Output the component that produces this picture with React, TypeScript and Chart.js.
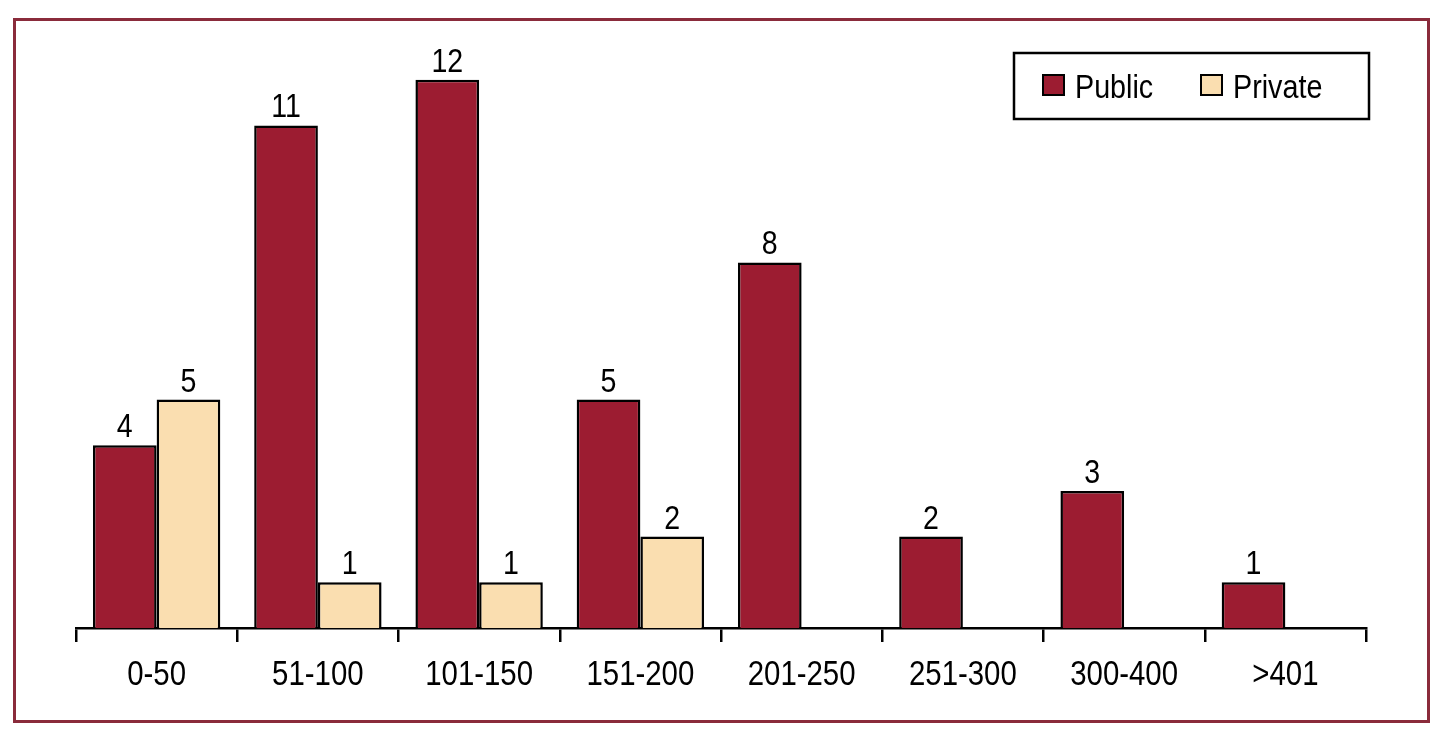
import React, { useEffect, useRef } from "react";
import { Chart, registerables } from "chart.js";

Chart.register(...registerables);

const categories = ["0-50", "51-100", "101-150", "151-200", "201-250", "251-300", "300-400", ">401"];
const publicValues = [4, 11, 12, 5, 8, 2, 3, 1];
const privateValues: (number | null)[] = [5, 1, 1, 2, null, null, null, null];
const seriesNames = ["Public", "Private"];

const PUBLIC_COLOR = "#9c1c31";
const PRIVATE_COLOR = "#fadeb0";
const FONT = '"Liberation Sans", Arial, sans-serif';
const SQUEEZE = 0.84;

function drawNarrowText(ctx: any, text: string, x: number, y: number, size: number, align: "left" | "center", squeeze = SQUEEZE) {
  ctx.save();
  ctx.font = `${size}px ${FONT}`;
  ctx.fillStyle = "#000";
  ctx.textBaseline = "alphabetic";
  ctx.textAlign = align;
  ctx.translate(x, y);
  ctx.scale(squeeze, 1);
  ctx.fillText(text, 0, 0);
  ctx.restore();
}

const valueLabelPlugin = {
  id: "valueLabels",
  afterDatasetsDraw(chart: any) {
    const ctx = chart.ctx;
    chart.data.datasets.forEach((ds: any, di: number) => {
      const meta = chart.getDatasetMeta(di);
      meta.data.forEach((bar: any, i: number) => {
        const v = ds.data[i];
        if (v === null || v === undefined) return;
        drawNarrowText(ctx, String(v), bar.x, bar.y - 8, 34, "center");
      });
    });
  },
};

const xLabelPlugin = {
  id: "xLabels",
  afterDraw(chart: any) {
    const ctx = chart.ctx;
    const xs = chart.scales.x;
    const labels = chart.data.labels as string[];
    labels.forEach((lab, i) => {
      const px = xs.getPixelForValue(i);
      drawNarrowText(ctx, lab, px, xs.top + 57, 35, "center");
    });
  },
};

const legendPlugin = {
  id: "boxLegend",
  afterDraw(chart: any) {
    const ctx = chart.ctx;
    ctx.save();
    ctx.lineWidth = 2.5;
    ctx.strokeStyle = "#000";
    ctx.strokeRect(1014, 53, 355, 66);
    const items = [
      { x: 1043, color: PUBLIC_COLOR, text: seriesNames[0] },
      { x: 1201, color: PRIVATE_COLOR, text: seriesNames[1] },
    ];
    items.forEach((it) => {
      ctx.fillStyle = it.color;
      ctx.fillRect(it.x, 75, 21, 20);
      ctx.lineWidth = 2;
      ctx.strokeStyle = "#000";
      ctx.strokeRect(it.x, 75, 21, 20);
      drawNarrowText(ctx, it.text, it.x + 32, 98, 33, "left", 0.87);
    });
    ctx.restore();
  },
};

export default function App() {
  const canvasRef = useRef<HTMLCanvasElement | null>(null);

  useEffect(() => {
    const canvas = canvasRef.current;
    if (!canvas) return;
    const chart = new Chart(canvas, {
      type: "bar",
      data: {
        labels: categories,
        datasets: [
          {
            label: seriesNames[0],
            data: publicValues,
            backgroundColor: PUBLIC_COLOR,
            borderColor: "#000",
            borderWidth: 2.5,
          },
          {
            label: seriesNames[1],
            data: privateValues,
            backgroundColor: PRIVATE_COLOR,
            borderColor: "#000",
            borderWidth: 2.5,
          },
        ],
      },
      options: {
        responsive: false,
        animation: false,
        maintainAspectRatio: false,
        layout: { padding: { left: 76, right: 84, top: 34, bottom: 0 } },
        datasets: {
          bar: { categoryPercentage: 0.79, barPercentage: 1.0 },
        },
        plugins: {
          legend: { display: false },
          tooltip: { enabled: false },
        },
        scales: {
          x: {
            offset: true,
            grid: {
              offset: true,
              drawOnChartArea: false,
              drawTicks: true,
              tickLength: 14,
              color: "#000",
              lineWidth: 2.5,
            },
            border: { display: true, color: "#000", width: 2.5 },
            ticks: {
              display: false,
            },
            afterFit(scale: any) {
              scale.height = 109;
            },
          },
          y: {
            display: false,
            min: 0,
            max: 13,
          },
        },
      },
      plugins: [valueLabelPlugin, xLabelPlugin, legendPlugin],
    });
    return () => chart.destroy();
  }, []);

  return (
    <div style={{ position: "fixed", left: 0, top: 0, width: 1450, height: 737, background: "#fff" }}>
      <div
        style={{
          position: "absolute",
          left: 13,
          top: 18,
          width: 1417,
          height: 705,
          boxSizing: "border-box",
          border: "3px solid #8a2b3b",
        }}
      />
      <canvas
        ref={canvasRef}
        width={1450}
        height={737}
        style={{ position: "absolute", left: 0, top: 0, width: 1450, height: 737 }}
      />
    </div>
  );
}
